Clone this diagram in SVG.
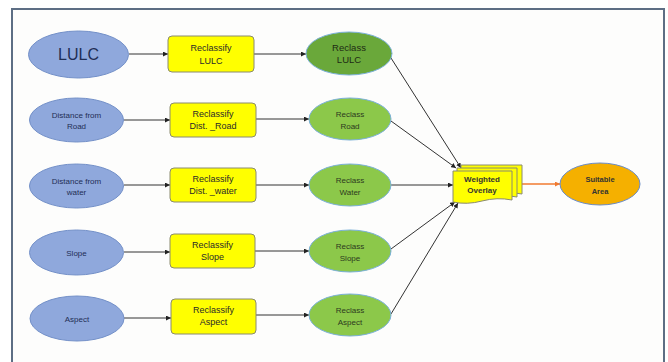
<svg xmlns="http://www.w3.org/2000/svg" width="668" height="362" viewBox="0 0 668 362">
<defs>
<style>
.frame{fill:#fdfdfc;stroke:#5d6e84;stroke-width:2}
.blue{fill:#8fa8dc;stroke:#7390c8;stroke-width:1}
.yel{fill:#ffff00;stroke:#8a8a70;stroke-width:1}
.grn{fill:#8cc84a;stroke:#7ab0d8;stroke-width:1}
.grnd{fill:#6aa83a;stroke:#7ab0d8;stroke-width:1}
.org{fill:#f5b000;stroke:#6a8cc8;stroke-width:1}
.t{font-family:"Liberation Sans",Arial,sans-serif;text-anchor:middle}
.tb{fill:#1f2e55;font-size:8px}
.ty{fill:#2a2a2a;font-size:9px}
.tg{fill:#2c3a20;font-size:8px}
.c{stroke:#333;stroke-width:1;fill:none;marker-end:url(#ah)}
.co{stroke:#f07a30;stroke-width:1.3;fill:none;marker-end:url(#aho)}
</style>
<marker id="ah" viewBox="0 0 10 10" refX="10" refY="5" markerWidth="5" markerHeight="5" orient="auto" markerUnits="userSpaceOnUse"><path d="M0,0L10,5L0,10z" fill="#222"/></marker>
<marker id="aho" viewBox="0 0 10 10" refX="10" refY="5" markerWidth="5" markerHeight="5" orient="auto" markerUnits="userSpaceOnUse"><path d="M0,0L10,5L0,10z" fill="#f07a30"/></marker>
</defs>
<rect width="668" height="362" fill="#ffffff"/>
<path class="frame" d="M12,370V9H664V370"/>

<g id="connectors">
<line class="c" x1="129" y1="54" x2="168" y2="54"/>
<line class="c" x1="124" y1="120" x2="170" y2="120"/>
<line class="c" x1="124" y1="185" x2="170" y2="185"/>
<line class="c" x1="124" y1="252" x2="170" y2="252"/>
<line class="c" x1="124" y1="318" x2="171" y2="318"/>
<line class="c" x1="254" y1="54" x2="306" y2="54"/>
<line class="c" x1="256" y1="119" x2="309" y2="119"/>
<line class="c" x1="256" y1="185" x2="309" y2="185"/>
<line class="c" x1="255" y1="251" x2="309" y2="251"/>
<line class="c" x1="256" y1="315" x2="309" y2="315"/>
<line class="c" x1="391" y1="58" x2="461" y2="168"/>
<line class="c" x1="391" y1="121" x2="456" y2="168"/>
<line class="c" x1="391" y1="185" x2="453" y2="185"/>
<line class="c" x1="391" y1="249" x2="455" y2="202"/>
<line class="c" x1="391" y1="314" x2="458" y2="203"/>
<line class="co" x1="522" y1="184" x2="560" y2="184"/>
</g>

<g id="lulc"><ellipse class="blue" cx="78.5" cy="54.5" rx="50" ry="23.5"/><text class="t" x="78.5" y="60" fill="#1f2e55" font-size="16">LULC</text></g>
<g id="road"><ellipse class="blue" cx="76.5" cy="120" rx="47" ry="22"/><text class="t tb" x="76.5" y="118">Distance from</text><text class="t tb" x="76.5" y="129">Road</text></g>
<g id="water"><ellipse class="blue" cx="76.5" cy="186" rx="47" ry="22"/><text class="t tb" x="76.5" y="184">Distance from</text><text class="t tb" x="76.5" y="195">water</text></g>
<g id="slope"><ellipse class="blue" cx="76.5" cy="252.5" rx="47" ry="22.5"/><text class="t tb" x="76.5" y="255.5">Slope</text></g>
<g id="aspect"><ellipse class="blue" cx="77" cy="318.5" rx="47" ry="22.5"/><text class="t tb" x="77" y="321.5">Aspect</text></g>

<g id="rc-lulc"><rect class="yel" x="168" y="36" width="86" height="36" rx="4"/><text class="t ty" x="211" y="51">Reclassify</text><text class="t ty" x="211" y="64">LULC</text></g>
<g id="rc-road"><rect class="yel" x="170" y="103" width="86" height="34" rx="4"/><text class="t ty" x="213" y="117">Reclassify</text><text class="t ty" x="213" y="129">Dist. _Road</text></g>
<g id="rc-water"><rect class="yel" x="170" y="168" width="86" height="34" rx="4"/><text class="t ty" x="213" y="182">Reclassify</text><text class="t ty" x="213" y="194">Dist. _water</text></g>
<g id="rc-slope"><rect class="yel" x="170" y="234" width="85" height="34" rx="4"/><text class="t ty" x="212.5" y="248">Reclassify</text><text class="t ty" x="212.5" y="260">Slope</text></g>
<g id="rc-aspect"><rect class="yel" x="171" y="299" width="85" height="35" rx="4"/><text class="t ty" x="213.5" y="313">Reclassify</text><text class="t ty" x="213.5" y="325">Aspect</text></g>

<g id="rl-lulc"><ellipse class="grnd" cx="349" cy="53.5" rx="43" ry="21.5"/><text class="t" x="349" y="51" fill="#1e2a14" font-size="9.5">Reclass</text><text class="t" x="349" y="63" fill="#1e2a14" font-size="9.5">LULC</text></g>
<g id="rl-road"><ellipse class="grn" cx="350" cy="119" rx="41" ry="21"/><text class="t tg" x="350" y="117">Reclass</text><text class="t tg" x="350" y="129">Road</text></g>
<g id="rl-water"><ellipse class="grn" cx="350" cy="185" rx="41" ry="21"/><text class="t tg" x="350" y="183">Reclass</text><text class="t tg" x="350" y="195">Water</text></g>
<g id="rl-slope"><ellipse class="grn" cx="350" cy="251" rx="41" ry="21"/><text class="t tg" x="350" y="249">Reclass</text><text class="t tg" x="350" y="261">Slope</text></g>
<g id="rl-aspect"><ellipse class="grn" cx="350" cy="315" rx="41" ry="21"/><text class="t tg" x="350" y="313">Reclass</text><text class="t tg" x="350" y="325">Aspect</text></g>

<g id="overlay">
<path class="yel" d="M461,165H522V194Q507,191 492,195Q477,199 461,196Z" stroke-width="0.8"/>
<path class="yel" d="M457,168H517V197Q502,194 487,198Q472,202 457,199Z" stroke-width="0.8"/>
<path class="yel" d="M453,171H512V200Q497,197 482,201Q467,205 453,202Z" stroke-width="0.8"/>
<text class="t" x="482" y="182" fill="#333" font-size="8" font-weight="bold">Weighted</text>
<text class="t" x="482" y="193" fill="#333" font-size="8" font-weight="bold">Overlay</text>
</g>

<g id="suitable"><ellipse class="org" cx="600" cy="184" rx="40" ry="21"/><text class="t" x="600" y="182" fill="#333" font-size="7.5" font-weight="bold">Suitable</text><text class="t" x="600" y="194" fill="#333" font-size="7.5" font-weight="bold">Area</text></g>
</svg>
